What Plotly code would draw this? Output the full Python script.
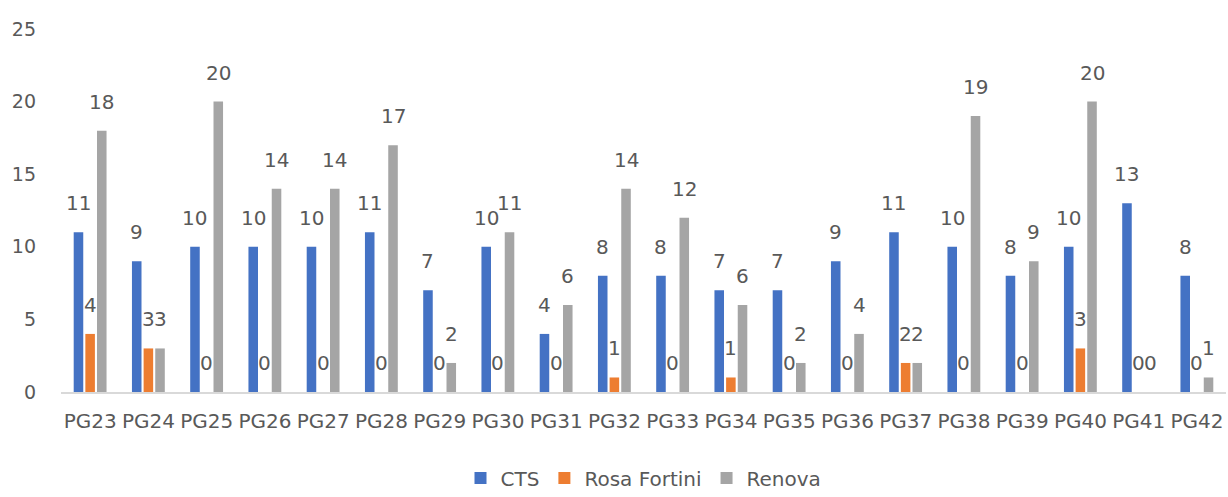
import plotly.graph_objects as go

categories = ["PG23", "PG24", "PG25", "PG26", "PG27", "PG28", "PG29", "PG30", "PG31", "PG32",
              "PG33", "PG34", "PG35", "PG36", "PG37", "PG38", "PG39", "PG40", "PG41", "PG42"]
cts = [11, 9, 10, 10, 10, 11, 7, 10, 4, 8, 8, 7, 7, 9, 11, 10, 8, 10, 13, 8]
rosa_fortini = [4, 3, 0, 0, 0, 0, 0, 0, 0, 1, 0, 1, 0, 0, 2, 0, 0, 3, 0, 0]
renova = [18, 3, 20, 14, 14, 17, 2, 11, 6, 14, 12, 6, 2, 4, 2, 19, 9, 20, 0, 1]

series = [
    ("CTS", cts, "#4472C4"),
    ("Rosa Fortini", rosa_fortini, "#ED7D31"),
    ("Renova", renova, "#A5A5A5"),
]

text_color = "#595959"
font_family = "DejaVu Sans"

bargap = 0.4
bargroupgap = 0.18
slot = (1 - bargap) / len(series)

fig = go.Figure()
annotations = []
for k, (name, values, color) in enumerate(series):
    fig.add_trace(go.Bar(
        name=name,
        x=categories,
        y=values,
        marker=dict(color=color, line=dict(width=0)),
    ))
    # value labels floating above each bar of the group
    offset = (k - (len(series) - 1) / 2) * slot
    for i, v in enumerate(values):
        annotations.append(dict(
            x=i + offset, y=v, xref="x", yref="y",
            text=str(v), showarrow=False,
            xanchor="center", yanchor="bottom", yshift=15,
            font=dict(family=font_family, size=20, color=text_color),
        ))

fig.update_layout(
    width=1228,
    height=497,
    margin=dict(l=61, r=2, t=29, b=105, autoexpand=False),
    paper_bgcolor="white",
    plot_bgcolor="white",
    barmode="group",
    bargap=bargap,
    bargroupgap=bargroupgap,
    font=dict(family=font_family, color=text_color),
    annotations=annotations,
    legend=dict(
        orientation="h",
        x=0.5, xanchor="center",
        yref="container", y=0.038, yanchor="middle",
        font=dict(family=font_family, size=20, color=text_color),
        itemwidth=30,
        tracegroupgap=0,
    ),
    xaxis=dict(
        showgrid=False,
        showline=True,
        linecolor="#D9D9D9",
        linewidth=1.5,
        ticks="",
        automargin=False,
        tickfont=dict(family=font_family, size=20, color=text_color),
        ticklabelstandoff=10,
    ),
    yaxis=dict(
        range=[0, 25],
        dtick=5,
        showgrid=False,
        zeroline=False,
        showline=False,
        ticks="",
        automargin=False,
        tickfont=dict(family=font_family, size=19, color=text_color),
        ticklabelstandoff=24,
    ),
)

fig.write_html("out.html")
